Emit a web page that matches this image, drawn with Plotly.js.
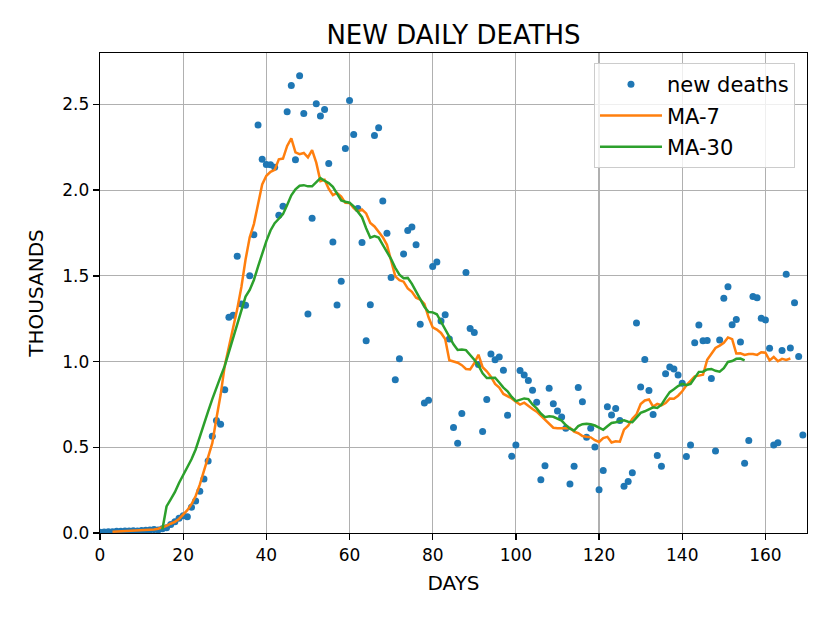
<!DOCTYPE html>
<html>
<head>
<meta charset="utf-8">
<script src="https://cdn.plot.ly/plotly-3.0.1.min.js"></script>
<style>html,body{margin:0;padding:0;background:#fff;}#chart{width:830px;height:623px;}</style>
</head>
<body>
<div id="chart"></div>
<script>
// new daily deaths (thousands), one value per day starting at day 0
const deaths = [
0.005,0.006,0.008,0.008,0.010,0.010,0.012,0.012,0.013,0.012,
0.015,0.016,0.018,0.020,0.018,0.025,0.030,0.050,0.066,0.086,
0.100,0.095,0.150,0.187,0.244,0.315,0.420,0.565,0.656,0.635,
0.835,1.258,1.270,1.614,1.336,1.328,1.500,1.740,2.380,2.180,
2.150,2.148,2.134,1.853,1.906,2.457,2.610,2.177,2.667,2.447,
1.277,1.836,2.504,2.432,2.471,2.155,1.698,1.330,1.468,2.243,
2.523,2.325,1.893,1.694,1.121,1.332,2.319,2.364,1.937,1.748,
1.490,0.894,1.016,1.628,1.764,1.785,1.682,1.217,0.758,0.775,
1.554,1.581,1.237,1.273,1.131,0.615,0.524,0.697,1.520,1.193,
1.170,0.983,0.592,0.779,1.044,1.010,1.026,0.950,0.687,0.448,
0.514,0.948,0.921,0.890,0.833,0.763,0.310,0.393,0.845,0.754,
0.711,0.676,0.611,0.286,0.390,0.849,0.765,0.559,0.611,0.502,
0.253,0.364,0.736,0.689,0.726,0.656,0.273,0.300,0.352,1.225,
0.851,1.012,0.831,0.691,0.452,0.390,0.929,0.968,0.956,0.921,
0.874,0.446,0.514,1.110,1.213,1.121,1.123,0.901,0.479,1.126,
1.369,1.437,1.215,1.246,1.114,0.407,0.539,1.380,1.373,1.252,
1.242,1.077,0.514,0.527,1.065,1.509,1.079,1.343,1.030,0.572
];

// MA-7 line values, first value at day ma7Start
const ma7Start = 3;
const ma7 = [
0.008,0.009,0.010,0.011,0.012,0.013,0.014,0.015,0.016,0.018,
0.020,0.025,0.032,0.042,0.054,0.065,0.082,0.105,0.133,0.168,
0.216,0.282,0.362,0.432,0.524,0.669,0.806,0.976,1.086,1.182,
1.306,1.435,1.595,1.725,1.802,1.918,2.033,2.084,2.107,2.118,
2.180,2.184,2.258,2.302,2.220,2.210,2.217,2.191,2.233,2.160,
2.053,2.061,2.008,1.971,1.984,1.963,1.926,1.925,1.895,1.876,
1.887,1.864,1.809,1.788,1.759,1.726,1.681,1.582,1.497,1.475,
1.466,1.427,1.407,1.373,1.362,1.336,1.258,1.199,1.187,1.167,
1.131,1.008,1.000,0.993,0.979,0.957,0.954,0.991,1.040,0.967,
0.943,0.912,0.870,0.849,0.811,0.798,0.785,0.765,0.749,0.760,
0.740,0.723,0.708,0.684,0.658,0.636,0.614,0.611,0.610,0.611,
0.613,0.591,0.582,0.566,0.561,0.558,0.541,0.531,0.554,0.561,
0.528,0.535,0.533,0.603,0.626,0.667,0.692,0.752,0.773,0.779,
0.737,0.753,0.745,0.758,0.784,0.783,0.801,0.827,0.862,0.886,
0.914,0.918,0.923,1.010,1.047,1.079,1.093,1.110,1.141,1.131,
1.047,1.048,1.039,1.044,1.044,1.039,1.054,1.052,1.007,1.027,
1.002,1.016,1.010,1.018
];

// MA-30 line values, first value at day ma30Start
const ma30Start = 15;
const ma30 = [
0.020,0.155,0.196,0.238,0.292,0.336,0.380,0.430,0.487,0.566,
0.638,0.710,0.781,0.851,0.912,0.975,1.056,1.142,1.213,1.300,
1.379,1.418,1.476,1.554,1.629,1.703,1.765,1.807,1.833,1.860,
1.914,1.970,2.005,2.026,2.029,2.022,2.022,2.049,2.070,2.055,
2.041,2.019,1.977,1.940,1.932,1.927,1.905,1.874,1.842,1.778,
1.723,1.732,1.723,1.681,1.643,1.598,1.547,1.507,1.486,1.488,
1.453,1.408,1.363,1.320,1.289,1.287,1.276,1.233,1.186,1.144,
1.101,1.068,1.070,1.067,1.042,1.011,0.977,0.931,0.904,0.907,
0.906,0.878,0.848,0.827,0.794,0.769,0.777,0.785,0.781,0.750,
0.727,0.697,0.676,0.681,0.678,0.667,0.656,0.630,0.609,0.598,
0.624,0.635,0.637,0.634,0.627,0.615,0.602,0.623,0.642,0.646,
0.651,0.657,0.649,0.646,0.673,0.701,0.710,0.722,0.733,0.729,
0.749,0.787,0.822,0.838,0.857,0.870,0.862,0.870,0.906,0.940,
0.941,0.954,0.957,0.946,0.941,0.961,0.998,1.003,1.016,1.018,
1.007
];

const xTicks = [0,20,40,60,80,100,120,140,160];
const yTicks = [0,0.5,1.0,1.5,2.0,2.5];

const days = deaths.map((_, i) => i);
const ma7Days = ma7.map((_, i) => i + ma7Start);
const ma30Days = ma30.map((_, i) => i + ma30Start);

const FONT = 'DejaVu Sans, Liberation Sans, sans-serif';

const traces = [
  {x: days, y: deaths, type: 'scatter', mode: 'markers', name: 'new deaths',
   legendgroup: 'a', marker: {color: '#1f77b4', size: 7}},
  {x: ma7Days, y: ma7, type: 'scatter', mode: 'lines', name: 'MA-7',
   legendgroup: 'b', line: {color: '#ff7f0e', width: 2.5}},
  {x: ma30Days, y: ma30, type: 'scatter', mode: 'lines', name: 'MA-30',
   legendgroup: 'c', line: {color: '#2ca02c', width: 2.5}}
];

const axisCommon = {
  showline: true, mirror: true, linecolor: '#000', linewidth: 1.3,
  ticks: 'outside', ticklen: 6, tickwidth: 1.3, tickcolor: '#000',
  showgrid: true, gridcolor: '#b0b0b0', gridwidth: 1.2,
  zeroline: false, tickfont: {family: FONT, size: 17, color: '#000'}
};

const layout = {
  width: 830, height: 623,
  margin: {l: 100, r: 23, t: 53, b: 90},
  paper_bgcolor: '#fff', plot_bgcolor: '#fff',
  font: {family: FONT, color: '#000'},
  title: {text: 'NEW DAILY DEATHS', font: {family: FONT, size: 26, color: '#000'},
          x: 0.5, xref: 'paper', y: 1 - 35/623, yref: 'container', yanchor: 'middle'},
  xaxis: Object.assign({}, axisCommon, {
    range: [0, 170], tickvals: xTicks, ticktext: xTicks.map(String),
    title: {text: 'DAYS', font: {family: FONT, size: 20, color: '#000'}, standoff: 12}
  }),
  yaxis: Object.assign({}, axisCommon, {
    range: [0, 2.8], tickvals: yTicks, ticktext: yTicks.map(v => v.toFixed(1)),
    title: {text: 'THOUSANDS', font: {family: FONT, size: 20, color: '#000'}, standoff: 13}
  }),
  showlegend: true,
  legend: {
    x: 0.983, xanchor: 'right', y: 0.979, yanchor: 'top',
    bgcolor: 'rgba(255,255,255,0.8)', bordercolor: '#cccccc', borderwidth: 1,
    font: {family: FONT, size: 21, color: '#000'},
    traceorder: 'grouped', tracegroupgap: 1, itemwidth: 62
  }
};

Plotly.newPlot('chart', traces, layout, {displayModeBar: false, staticPlot: true});
</script>
</body>
</html>
